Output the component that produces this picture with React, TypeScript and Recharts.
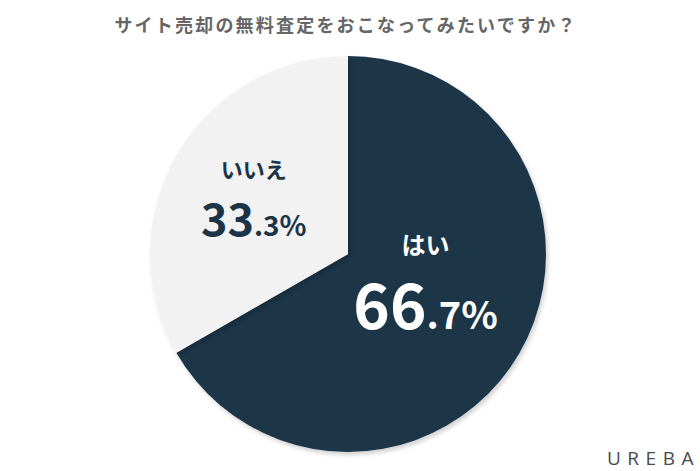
import React from "react";
import { PieChart, Pie, Cell } from "recharts";

const title = "サイト売却の無料査定をおこなってみたいですか？";
const categories = ["はい", "いいえ"];
const values = [66.7, 33.3];
const colors = ["#1b3447", "#f2f2f2"];
const textColors = ["#ffffff", "#1b3447"];
// label placement: fraction of radius and angle offset (deg) from slice mid-angle
const labelRadius = [0.41, 0.55];
const labelAngleShift = [13, 0];
const nameSizes = [24, 22];
const bigSizes = [62, 45];
const smallSizes = [38, 28];

const data = categories.map((name, i) => ({ name, value: values[i] }));

const FONT = "'Noto Sans CJK JP', 'Noto Sans', sans-serif";
const RAD = Math.PI / 180;

const renderLabel = (props: any) => {
  const { cx, cy, midAngle, outerRadius, index, value } = props;
  const a = (midAngle + labelAngleShift[index]) * RAD;
  const r = outerRadius * labelRadius[index];
  const x = cx + r * Math.cos(a);
  const y = cy - r * Math.sin(a);
  const v = Number(value).toFixed(1);
  const [intPart, decPart] = v.split(".");
  const c = textColors[index];
  return (
    <g>
      <text
        x={x}
        y={y - nameSizes[index] * 0.98}
        textAnchor="middle"
        fill={c}
        fontFamily={FONT}
        fontWeight={700}
        fontSize={nameSizes[index]}
      >
        {categories[index]}
      </text>
      <text
        x={x}
        y={y + bigSizes[index] * 0.82}
        textAnchor="middle"
        fill={c}
        fontFamily={FONT}
        fontWeight={700}
        fontSize={bigSizes[index]}
      >
        {intPart}
        <tspan fontSize={smallSizes[index]}>{"." + decPart + "%"}</tspan>
      </text>
    </g>
  );
};

export default function App() {
  return (
    <div style={{ position: "absolute", left: 0, top: 0, width: 700, height: 471, background: "#ffffff" }}>
      <PieChart width={700} height={471} margin={{ top: 0, right: 0, bottom: 0, left: 0 }}>
        <defs>
          <filter id="sh" x="-10%" y="-10%" width="120%" height="120%">
            <feDropShadow dx="2" dy="3" stdDeviation="2" floodColor="#000" floodOpacity="0.18" />
          </filter>
        </defs>
        <text
          x={346}
          y={32}
          textAnchor="middle"
          fill="#666666"
          fontFamily={FONT}
          fontWeight={700}
          fontSize={18}
          letterSpacing={2.2}
        >
          {title}
        </text>
        <Pie
          data={data}
          dataKey="value"
          nameKey="name"
          cx={348}
          cy={254}
          outerRadius={198}
          startAngle={90}
          endAngle={-270}
          stroke="none"
          labelLine={false}
          label={renderLabel}
          isAnimationActive={false}
          style={{ filter: "url(#sh)" }}
        >
          {data.map((d, i) => (
            <Cell key={d.name} fill={colors[i]} />
          ))}
        </Pie>
        <text
          x={607}
          y={465}
          fill="#4a4a4a"
          fontFamily="'Open Sans', sans-serif"
          fontWeight={400}
          fontSize={19}
          letterSpacing={6.5}
        >
          UREBA
        </text>
      </PieChart>
    </div>
  );
}
